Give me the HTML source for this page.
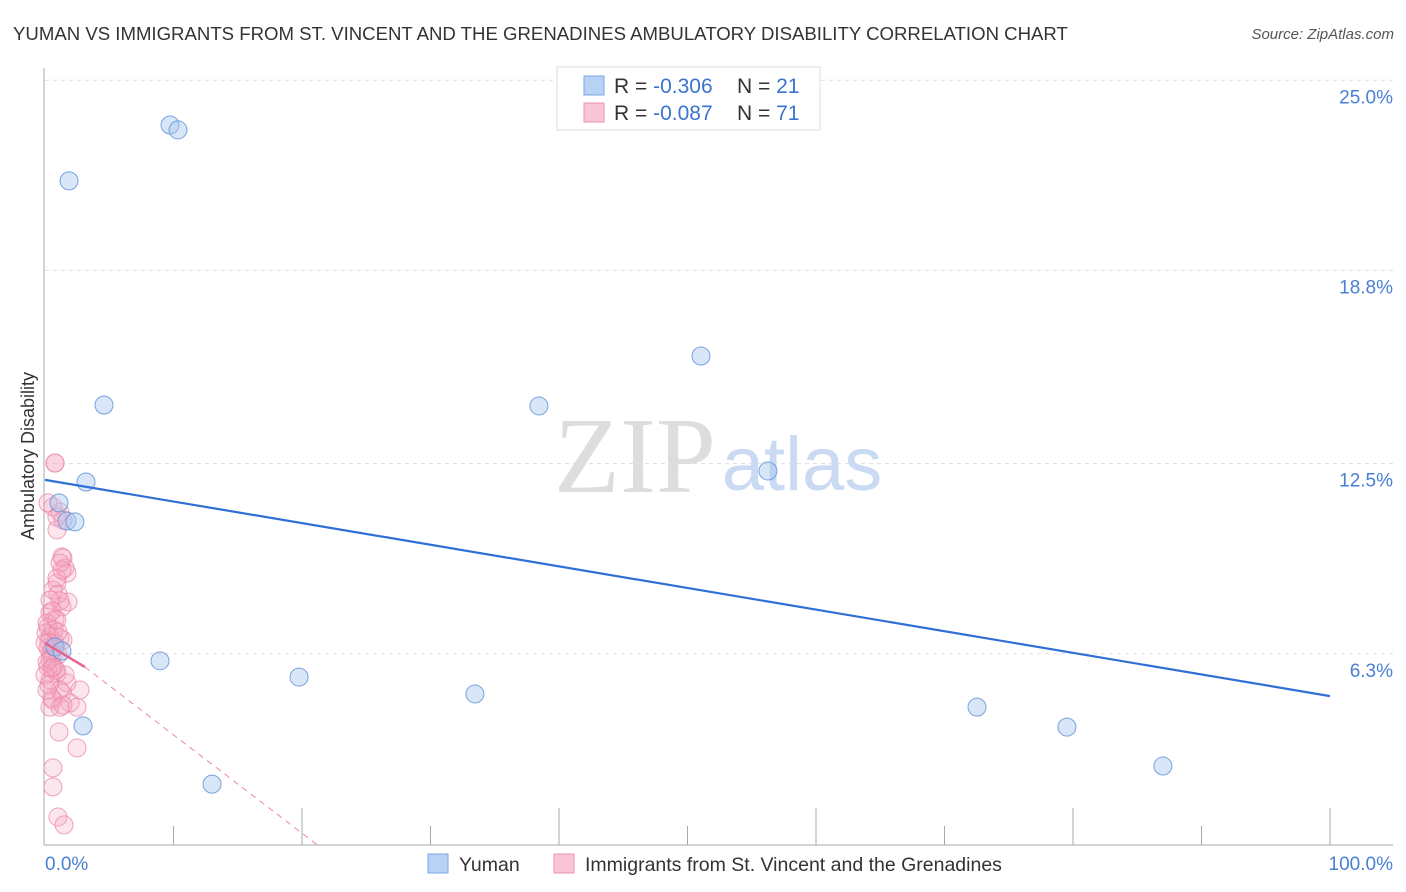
<!DOCTYPE html>
<html><head><meta charset="utf-8"><style>
body{margin:0;background:#fff;font-family:"Liberation Sans",sans-serif}
svg{display:block}
</style></head><body>
<svg id="chart" width="1406" height="892" xmlns="http://www.w3.org/2000/svg">
<text x="13" y="40" font-size="18.6" fill="#333">YUMAN VS IMMIGRANTS FROM ST. VINCENT AND THE GRENADINES AMBULATORY DISABILITY CORRELATION CHART</text>
<text x="1394" y="39" font-size="15" fill="#555" font-style="italic" text-anchor="end">Source: ZipAtlas.com</text>
<text x="635" y="492" font-size="108" fill="#ddd" font-family="Liberation Serif,serif" text-anchor="middle">ZIP</text>
<text x="802" y="490" font-size="76" fill="#c9daf2" text-anchor="middle">atlas</text>
<text transform="translate(34,456) rotate(-90)" font-size="18" fill="#333" text-anchor="middle">Ambulatory Disability</text>
<g id="grid"></g><g id="axes"></g><g id="marks"></g>
<g>
<rect x="557" y="67" width="263" height="63" fill="#fff" stroke="#ddd"/>
<rect x="584" y="76" width="20" height="19" fill="#b8d2f4" stroke="#7aa6e0"/>
<rect x="584" y="103" width="20" height="19" fill="#f9c4d4" stroke="#ee93b0"/>
<text x="614" y="93" font-size="21" fill="#333">R = <tspan fill="#3a74d0">-0.306</tspan><tspan x="737">N = </tspan><tspan fill="#3a74d0">21</tspan></text>
<text x="614" y="120" font-size="21" fill="#333">R = <tspan fill="#3a74d0">-0.087</tspan><tspan x="737">N = </tspan><tspan fill="#3a74d0">71</tspan></text>
</g>
<g>
<rect x="428" y="854" width="20" height="19" fill="#b8d2f4" stroke="#7aa6e0"/>
<text x="459" y="871" font-size="19.5" fill="#333">Yuman</text>
<rect x="554" y="854" width="20" height="19" fill="#f9c4d4" stroke="#ee93b0"/>
<text x="585" y="871" font-size="19.5" fill="#333">Immigrants from St. Vincent and the Grenadines</text>
</g>
</svg>
<script>
const yTicks=[25.0,18.8,12.5,6.3];
const yTickLabels=["25.0%","18.8%","12.5%","6.3%"];
const xTickLabels=["0.0%","100.0%"];
const yumanX=[9.73,10.35,1.87,4.59,3.19,1.09,1.71,2.33,8.95,19.77,33.46,2.96,13.0,38.44,51.05,56.26,72.53,79.53,87.0,0.78,1.32];
const yumanY=[23.54,23.38,21.72,14.41,11.90,11.22,10.63,10.60,6.07,5.54,4.99,3.95,2.05,14.38,16.01,12.26,4.56,3.91,2.64,6.52,6.39];
const immX=[0.78,0.62,1.17,0.93,1.40,1.32,1.56,1.71,0.93,0.62,1.79,1.32,1.40,0.39,0.23,0.39,0.62,0.54,0.23,0.93,1.71,2.72,1.32,0.62,1.95,2.49,1.17,0.39,1.09,2.49,0.62,0.62,1.01,1.48,
0.78,0.93,0.23,1.40,1.17,0.93,1.32,1.01,1.17,0.39,0.54,0.78,0.16,1.17,0.78,0.39,1.56,1.17,0.54,1.40,0.39,0.23,0.70,1.01,0.08,0.31,0.47,0.16,0.70,0.86,0,0.31,0.93,0,0.54,0.16,1.01];
const immY=[12.52,11.09,10.92,10.34,10.66,9.46,9.10,8.93,8.61,8.38,7.99,7.83,6.75,7.63,7.17,6.85,6.52,6.20,5.87,5.67,5.35,5.12,5.02,4.79,4.70,4.56,4.56,4.56,3.75,3.23,2.58,1.96,0.98,0.72,
12.52,10.76,11.22,9.42,9.26,8.77,9.03,8.25,8.02,8.05,7.69,7.43,7.30,6.81,6.65,6.10,5.61,5.12,4.86,4.63,5.45,6.49,7.08,6.26,6.98,6.68,6.36,6.03,5.87,5.77,5.61,5.28,7.40,6.65,5.84,5.12,7.01];
const yumanTrend=[11.97,4.92];
const immTrend=[6.65,5.87,3.1,21.4];
const NS="http://www.w3.org/2000/svg";
const X=v=>45+v*12.85, Y=v=>847-v*30.67;
function mk(tag,attrs,parent){const e=document.createElementNS(NS,tag);for(const k in attrs)e.setAttribute(k,attrs[k]);document.getElementById(parent).appendChild(e);return e;}
yTicks.forEach((t,i)=>{
 const l=mk('line',{x1:45,x2:1393,y1:Y(t),y2:Y(t),stroke:'#ddd','stroke-dasharray':'4,4'},'grid');
 
 
 const tx=mk('text',{x:1393,y:Y(t)+23,'font-size':19,fill:'#4a7fd4','text-anchor':'end'},'axes');tx.textContent=yTickLabels[i];
 
 
});
let a=mk('line',{x1:44,x2:44,y1:68,y2:845,stroke:'#aaa'},'axes');


a=mk('line',{x1:44,x2:1393,y1:845,y2:845,stroke:'#aaa'},'axes');


for(let i=1;i<=10;i++){
 const t=mk('line',{x1:X(i*10),x2:X(i*10),y1:i%2?826:808,y2:845,stroke:'#aaa'},'axes');
 
 
}
let xl=mk('text',{x:45,y:870,'font-size':19,fill:'#4a7fd4'},'axes');xl.textContent=xTickLabels[0];


xl=mk('text',{x:1393,y:870,'font-size':19,fill:'#4a7fd4','text-anchor':'end'},'axes');xl.textContent=xTickLabels[1];


immX.forEach((v,i)=>{
 const c=mk('circle',{cx:X(v),cy:Y(immY[i]),r:9,fill:'rgba(246,164,192,0.28)',stroke:'rgba(236,134,166,0.75)','stroke-width':1},'marks');
 
 
});
yumanX.forEach((v,i)=>{
 const c=mk('circle',{cx:X(v),cy:Y(yumanY[i]),r:9,fill:'rgba(168,200,240,0.45)',stroke:'rgba(91,143,216,0.8)','stroke-width':1},'marks');
 
 
});
let tl=mk('line',{x1:X(0),y1:Y(yumanTrend[0]),x2:X(100),y2:Y(yumanTrend[1]),stroke:'#2f6fd6','stroke-width':2.2},'marks');


tl=mk('line',{x1:X(immTrend[2]),y1:Y(immTrend[1]),x2:X(immTrend[3]),y2:Y(0),stroke:'#ec86a6','stroke-width':1,'stroke-dasharray':'6,5'},'marks');


tl=mk('line',{x1:X(0),y1:Y(immTrend[0]),x2:X(immTrend[2]),y2:Y(immTrend[1]),stroke:'#e8628e','stroke-width':2.5},'marks');


</script>
</body></html>
